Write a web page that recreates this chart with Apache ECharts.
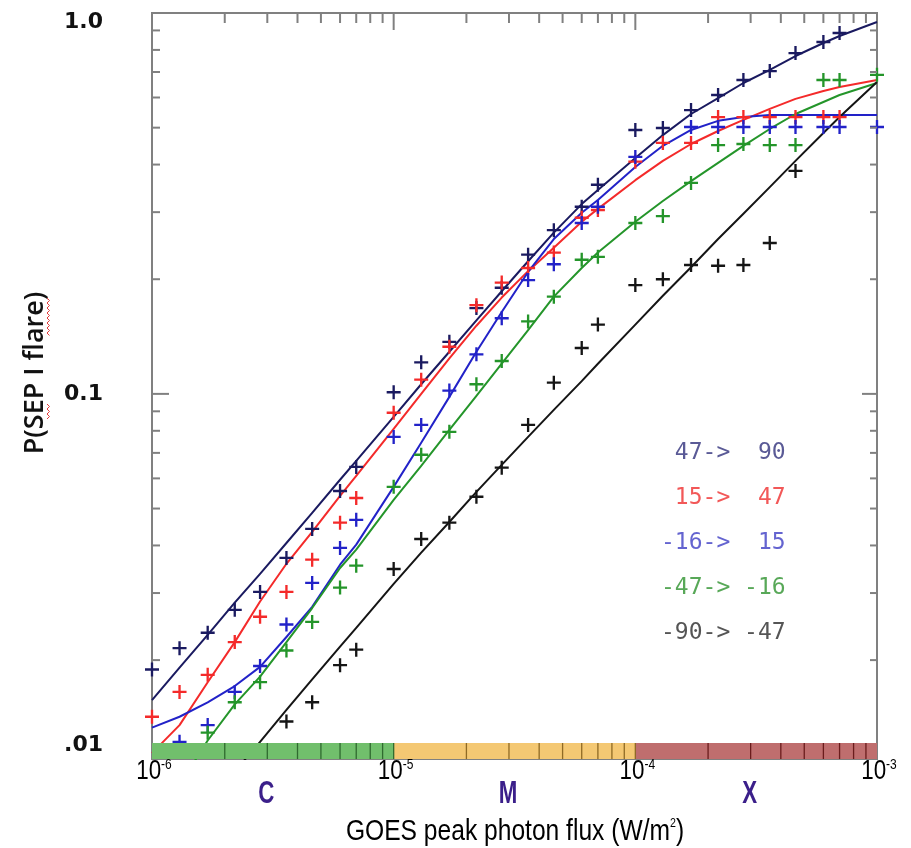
<!DOCTYPE html>
<html><head><meta charset="utf-8">
<script src="https://cdn.jsdelivr.net/npm/echarts@6/dist/echarts.min.js"></script>
<style>html,body{margin:0;padding:0;background:#fff}#c{width:911px;height:848px}</style>
</head><body><div id="c"></div>
<script>
// ---- data ----
const xValues = [1.0e-6,1.3e-6,1.7e-6,2.2e-6,2.8e-6,3.6e-6,4.6e-6,6.0e-6,7.0e-6,
  1.0e-5,1.3e-5,1.7e-5,2.2e-5,2.8e-5,3.6e-5,4.6e-5,6.0e-5,7.0e-5,
  1.0e-4,1.3e-4,1.7e-4,2.2e-4,2.8e-4,3.6e-4,4.6e-4,6.0e-4,7.0e-4,1.0e-3];

const pts47to90 = [0.0189,0.0215,0.0236,0.0271,0.0302,0.0371,0.0442,0.0556,0.0643,
  0.101,0.121,0.137,0.168,0.190,0.232,0.269,0.310,0.354,
  0.493,0.499,0.556,0.609,0.667,0.704,0.785,0.839,0.886,null];
const pts15to47 = [0.0142,0.0165,0.0183,0.0223,0.0260,0.0302,0.0367,0.0459,0.0533,
  0.0892,0.109,0.133,0.171,0.196,0.214,0.235,0.290,0.304,
  0.407,0.456,0.456,0.533,0.533,0.533,0.533,0.533,0.533,null];
const ptsM16to15 = [null,0.0122,0.0135,0.0165,0.0193,0.0248,0.0319,0.0394,0.0467,
  0.0771,0.0829,0.102,0.127,0.158,0.199,0.219,0.281,0.310,
  0.419,null,0.502,0.502,0.502,0.502,0.502,0.502,0.502,0.502];
const ptsM47toM16 = [null,null,0.0129,0.0155,0.0175,0.0212,0.0252,0.0310,0.0354,
  0.0570,0.0692,0.0795,0.106,0.122,0.155,0.180,0.225,0.229,
  0.281,0.293,0.358,0.450,0.453,0.450,0.450,0.667,0.667,0.688];
const ptsM90toM47 = [null,null,null,null,null,0.0138,0.0155,0.0194,0.0213,
  0.0347,0.0416,0.0459,0.0537,0.0640,0.0829,0.107,0.132,0.152,
  0.193,0.200,0.218,0.217,0.218,0.249,0.385,null,null,null];

const fit47to90 = [0.0157,0.0191,0.0233,0.0283,0.0337,0.0406,0.0487,0.0595,0.0667,
  0.0870,0.106,0.129,0.156,0.186,0.223,0.265,0.315,0.343,
  0.416,0.478,0.543,0.598,0.655,0.709,0.771,0.834,0.870,0.947];
const fit15to47 = [0.0114,0.0135,0.0175,0.0223,0.0285,0.0358,0.0434,0.0540,0.0609,
  0.0809,0.100,0.124,0.151,0.179,0.210,0.242,0.283,0.306,
  0.364,0.409,0.453,0.490,0.524,0.560,0.595,0.624,0.639,0.667];
const fitM16to15 = [0.0133,0.0142,0.0155,0.0171,0.0192,0.0230,0.0276,0.0356,0.0402,
  0.0570,0.0744,0.0982,0.129,0.164,0.209,0.255,0.299,0.323,
  0.394,0.448,0.493,0.521,0.533,0.540,0.540,0.540,0.540,0.540];
const fitM47toM16 = [null,0.0094,0.0123,0.0153,0.0181,0.0223,0.0274,0.0349,0.0390,
  0.0527,0.0647,0.0805,0.0988,0.120,0.147,0.180,0.214,0.235,
  0.283,0.321,0.362,0.404,0.448,0.496,0.543,0.584,0.609,0.655];
const fitM90toM47 = [null,null,null,0.0102,0.0122,0.0148,0.0178,0.0217,0.0243,
  0.0317,0.0383,0.0461,0.0553,0.0651,0.0771,0.0908,0.108,0.120,
  0.152,0.181,0.215,0.255,0.297,0.349,0.409,0.484,0.533,0.659];

const legendLabels = [' 47->  90', ' 15->  47', '-16->  15', '-47-> -16', '-90-> -47'];

const xTickValues = [1e-6, 1e-5, 1e-4, 1e-3];
const xTickExponents = ['-6', '-5', '-4', '-3'];
const xMinorTicks = [2e-6,3e-6,4e-6,5e-6,6e-6,7e-6,8e-6,9e-6,
  2e-5,3e-5,4e-5,5e-5,6e-5,7e-5,8e-5,9e-5,
  2e-4,3e-4,4e-4,5e-4,6e-4,7e-4,8e-4,9e-4];
const xMajorTicks = [1e-5, 1e-4];
const yTickValues = [0.01, 0.1, 1.0];
const yTickLabels = ['.01', '0.1', '1.0'];
const yMinorTicks = [0.02,0.03,0.04,0.05,0.06,0.07,0.08,0.09,0.2,0.3,0.4,0.5,0.6,0.7,0.8,0.9];
const yMajorTicks = [0.1];

const classNames = ['C', 'M', 'X'];
const classStart = [1e-6, 1e-5, 1e-4];
const classEnd = [1e-5, 1e-4, 1e-3];
const classLabelAt = [3e-6, 3e-5, 3e-4];

// ---- styling ----
const X_MIN = 1e-6, X_MAX = 1e-3, Y_MIN = 0.011, Y_MAX = 1.0;
const seriesColors = ['#1a1a60', '#f42a2a', '#2222c8', '#24952a', '#151515'];
const legendColors = ['#5a5a96', '#f25858', '#6464d0', '#58a858', '#555555'];
const bandColors = ['#71bf6c', '#f4c873', '#bf6e6e'];
const bandLineColors = ['#2f6a2f', '#8f6a25', '#6a1c1c'];
const frameColor = '#808080';
const BAND_H = 16;
const SANS = '"Liberation Sans",Arial,sans-serif';

const fits = [fit47to90, fit15to47, fitM16to15, fitM47toM16, fitM90toM47];
const pts = [pts47to90, pts15to47, ptsM16to15, ptsM47toM16, ptsM90toM47];
const pair = arr => xValues.map((x, i) => [x, arr[i]]).filter(d => d[1] != null);

const plusPath = 'path://M5,0H7V5H12V7H7V12H5V7H0V5H5Z';

const series = [];
fits.forEach((f, i) => series.push({
  type: 'line', name: legendLabels[i], data: pair(f), showSymbol: false,
  smooth: false, clip: true, z: 2,
  lineStyle: { color: seriesColors[i], width: 2, join: 'round' }, itemStyle: { color: seriesColors[i] },
  silent: true, animation: false
}));
pts.forEach((p, i) => series.push({
  type: 'scatter', name: legendLabels[i], data: pair(p), symbol: plusPath, symbolSize: 14,
  itemStyle: { color: seriesColors[i], opacity: 1 }, z: 3, silent: true, animation: false
}));

// class colour band + class letters
series.push({
  type: 'custom', z: 5, silent: true, animation: false, clip: false,
  encode: { x: 0, y: 1 },
  data: classStart.map((s, i) => [s, 0.5, classEnd[i], i]),
  renderItem: (params, api) => {
    const cs = params.coordSys;
    const i = api.value(3);
    const x0 = api.coord([api.value(0), 0.5])[0];
    const x1 = api.coord([api.value(2), 0.5])[0];
    const xc = api.coord([classLabelAt[i], 0.5])[0];
    const yb = cs.y + cs.height;
    return { type: 'group', children: [
      { type: 'rect', shape: { x: x0, y: yb - BAND_H, width: x1 - x0, height: BAND_H }, style: { fill: bandColors[i] } },
      { type: 'text', x: xc - 1, y: yb + 35, scaleX: 0.72, style: { text: classNames[i], fill: '#3b1f8a',
        font: 'bold 31px ' + SANS, align: 'center', verticalAlign: 'middle', textAlign: 'center', textVerticalAlign: 'middle' } }
    ]};
  }
});

// ticks (frame + band)
const tickData = [];
xMinorTicks.forEach(v => tickData.push([v, 0.5, 0]));
xMajorTicks.forEach(v => tickData.push([v, 0.5, 1]));
yMinorTicks.forEach(v => tickData.push([1e-5, v, 2]));
yMajorTicks.forEach(v => tickData.push([1e-5, v, 3]));
series.push({
  type: 'custom', z: 6, silent: true, animation: false, clip: false,
  encode: { x: 0, y: 1 }, data: tickData,
  renderItem: (params, api) => {
    const cs = params.coordSys;
    const kind = api.value(2);
    const p = api.coord([api.value(0), api.value(1)]);
    const yb = cs.y + cs.height, xr = cs.x + cs.width;
    const st = { stroke: frameColor, lineWidth: 2 };
    if (kind <= 1) {
      const v = api.value(0);
      let bi = v < 1e-5 * 0.999 ? 0 : (v < 1e-4 * 0.999 ? 1 : 2);
      if (kind === 1) bi -= 1;
      return { type: 'group', children: [
        { type: 'line', shape: { x1: p[0], y1: cs.y, x2: p[0], y2: cs.y + (kind ? 17 : 10) }, style: st },
        { type: 'line', shape: { x1: p[0], y1: yb - BAND_H, x2: p[0], y2: yb }, style: { stroke: bandLineColors[Math.max(bi, 0)], lineWidth: 1.3 } }
      ]};
    }
    return { type: 'group', children: [
      { type: 'line', shape: { x1: cs.x, y1: p[1], x2: cs.x + (kind === 3 ? 17 : 8), y2: p[1] }, style: st },
      { type: 'line', shape: { x1: xr, y1: p[1], x2: xr - (kind === 3 ? 15 : 7), y2: p[1] }, style: st }
    ]};
  }
});

// tick labels
const labelData = [];
xTickValues.forEach((v, i) => labelData.push([v, 0.5, 0, i]));
yTickValues.forEach((v, i) => labelData.push([1e-5, Math.max(v, Y_MIN), 1, i]));
series.push({
  type: 'custom', z: 6, silent: true, animation: false, clip: false,
  encode: { x: 0, y: 1 }, data: labelData,
  renderItem: (params, api) => {
    const cs = params.coordSys;
    const kind = api.value(2), i = api.value(3);
    const p = api.coord([api.value(0), api.value(1)]);
    const yb = cs.y + cs.height;
    if (kind === 0) {
      return { type: 'text', x: p[0] + 2, y: yb + 12, scaleX: 0.8, style: {
        text: '{b|10}{s|' + xTickExponents[i] + '}', align: 'center', verticalAlign: 'middle',
        textAlign: 'center', textVerticalAlign: 'middle',
        rich: { b: { fontSize: 28, fontFamily: SANS, color: '#1a1a1a', lineHeight: 28, verticalAlign: 'bottom' },
                s: { fontSize: 15, fontFamily: SANS, color: '#1a1a1a', lineHeight: 28, verticalAlign: 'top' } } } };
    }
    let y = p[1];
    if (i === 2) y += 9;
    if (i === 0) y -= 14;
    return { type: 'text', x: cs.x - 49, y: y, style: { text: yTickLabels[i], fill: '#111',
      font: 'bold 22px "DejaVu Sans",Verdana,sans-serif', align: 'right', verticalAlign: 'middle',
      textAlign: 'right', textVerticalAlign: 'middle' } };
  }
});

// spell-check squiggles under the y title (decoration)
function squiggle(x, y0, y1) {
  const p = [];
  for (let y = y0, k = 0; y <= y1; y += 2.5, k++) p.push([x + (k % 2 ? 2.5 : 0), y]);
  return { type: 'polyline', shape: { points: p }, style: { stroke: '#e23a3a', lineWidth: 1, fill: null } };
}

const graphic = [
  { type: 'text', x: 515, y: 832, scaleX: 0.82, style: { text: '{t|GOES peak photon flux (W/m}{s|2}{t|)}',
    align: 'center', verticalAlign: 'middle', textAlign: 'center', textVerticalAlign: 'middle',
    rich: { t: { fontSize: 30, fontFamily: SANS, color: '#1a1a1a', lineHeight: 30, verticalAlign: 'bottom' },
            s: { fontSize: 13, fontFamily: SANS, color: '#1a1a1a', lineHeight: 30, verticalAlign: 'top' } } } },
  { type: 'text', x: 35, y: 373, rotation: Math.PI / 2, style: { text: 'P(SEP I flare)',
    fill: '#111', font: '600 27px "Open Sans",sans-serif', align: 'center', verticalAlign: 'middle',
    textAlign: 'center', textVerticalAlign: 'middle' } },
  squiggle(47, 298, 336),
  squiggle(47, 404, 420)
];
legendLabels.forEach((t, i) => graphic.push({ type: 'text', x: 661, y: 453 + 45 * i,
  style: { text: t, fill: legendColors[i], font: '23px "DejaVu Sans Mono",monospace',
    align: 'left', verticalAlign: 'middle', textAlign: 'left', textVerticalAlign: 'middle' } }));

const chart = echarts.init(document.getElementById('c'));
chart.setOption({
  backgroundColor: '#fff',
  animation: false,
  grid: { left: 152, right: 34, top: 13, bottom: 89, show: true, borderColor: frameColor, borderWidth: 2, backgroundColor: 'transparent' },
  xAxis: { type: 'log', logBase: 10, min: X_MIN, max: X_MAX, axisLine: { show: false }, axisTick: { show: false },
    axisLabel: { show: false }, splitLine: { show: false } },
  yAxis: { type: 'log', logBase: 10, min: Y_MIN, max: Y_MAX, axisLine: { show: false }, axisTick: { show: false },
    axisLabel: { show: false }, splitLine: { show: false } },
  series: series,
  graphic: graphic
});
</script></body></html>
